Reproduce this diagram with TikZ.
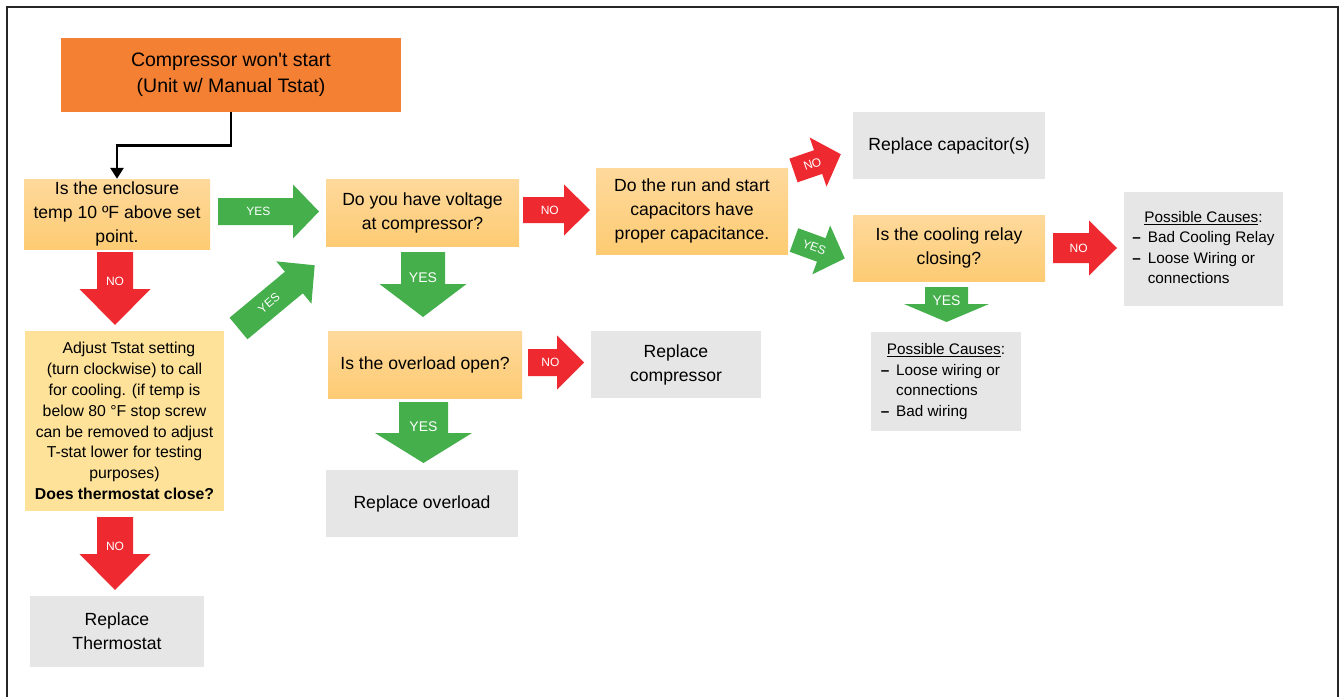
\documentclass[tikz,border=0pt]{standalone}
\usepackage{fontspec}
\setmainfont{Liberation Sans}[Ligatures=TeXOff]
\usetikzlibrary{arrows.meta}
\definecolor{orng}{HTML}{F48034}
\definecolor{ylwtop}{HTML}{FED99C}
\definecolor{ylwbot}{HTML}{FDCB73}
\definecolor{ylwflat}{HTML}{FEE29A}
\definecolor{gry}{HTML}{E7E6E6}
\definecolor{grn}{HTML}{44AF4B}
\definecolor{rd}{HTML}{EE2A30}
\definecolor{frm}{HTML}{262626}
\tikzset{
  box/.style={inner sep=0pt, align=center, font=\fontsize{17.6}{24}\selectfont},
  qbox/.style={box, top color=ylwtop, bottom color=ylwbot},
  gbox/.style={box, fill=gry},
  alabel/.style={text=white, inner sep=0pt, font=\fontsize{12}{12}\selectfont},
  flow/.style={line width=2.6pt, -{Triangle[width=13pt,length=11pt]}},
}
% name, tail centre, angle, length, body width, head width, head length, colour, label
\newcommand{\barrow}[9]{%
  \pgfmathsetmacro\trot{(#3<-45)?0:#3}%
  \begin{scope}[shift={(#2)}, rotate=#3]
    \fill[#8] (0,-#5/2) -- (#4-#7,-#5/2) -- (#4-#7,-#6/2) -- (#4,0)
      -- (#4-#7,#6/2) -- (#4-#7,#5/2) -- (0,#5/2) -- cycle;
    \node[alabel, rotate=\trot] (#1) at (0.4*#4,0) {#9};
  \end{scope}}
\newcommand{\bigyes}{\fontsize{14}{14}\selectfont YES}
\begin{document}
\begin{tikzpicture}[x=1pt,y=-1pt]
\useasboundingbox (0,0) rectangle (1341,696);
\fill[white] (0,0) rectangle (1341,696);
\draw[frm, line width=2.6pt] (7,697) -- (7,7) -- (1338,7) -- (1338,697);

% boxes
\node[box, fill=orng, minimum width=340pt, minimum height=74pt,
  font=\fontsize{19.5}{26}\selectfont] (start) at (231,75)
  {Compressor won't start\\(Unit w/ Manual Tstat)};
\node[qbox, minimum width=186pt, minimum height=70pt] (q1) at (117,214)
  {Is the enclosure\\temp 10 ºF above set\\point.};
\node[qbox, minimum width=193pt, minimum height=67pt] (q2) at (422.5,212.5)
  {Do you have voltage\\at compressor?};
\node[qbox, minimum width=192pt, minimum height=86pt] (q3) at (692,211)
  {Do the run and start\\capacitors have\\proper capacitance.};
\node[box, fill=ylwflat, minimum width=199pt, minimum height=180pt,
  font=\fontsize{15.8}{20.8}\selectfont] (q4) at (124.5,421)
  {\ \ Adjust Tstat setting\\(turn clockwise) to call\\for cooling. (if temp is\\below 80 °F stop screw\\can be removed to adjust\\T-stat lower for testing\\purposes)\\\textbf{Does thermostat close?}};
\node[gbox, minimum width=174pt, minimum height=71pt] (thermo) at (117,631.5)
  {Replace\\Thermostat};
\node[qbox, minimum width=194pt, minimum height=67pt] (q5) at (425,364.5)
  {Is the overload open?};
\node[gbox, minimum width=170pt, minimum height=67pt] (rcomp) at (676,364.5)
  {Replace\\compressor};
\node[gbox, minimum width=192pt, minimum height=67pt] (rover) at (422,503.5)
  {Replace overload};
\node[gbox, minimum width=192pt, minimum height=67pt] (rcap) at (949,145.5)
  {Replace capacitor(s)};
\node[qbox, minimum width=192pt, minimum height=66pt] (q6) at (949,248)
  {Is the cooling relay\\closing?};
\node[gbox, minimum width=150pt, minimum height=99pt,
  font=\fontsize{15.3}{20.5}\selectfont] (causes1) at (946,381.5)
  {\begin{tabular}{@{}l@{\ \,}l@{}}
    \multicolumn{2}{c}{\underline{Possible Causes}:}\\
    \textbf{–} & Loose wiring or\\
     & connections\\
    \textbf{–} & Bad wiring
  \end{tabular}};
\node[gbox, minimum width=159pt, minimum height=114pt,
  font=\fontsize{15.3}{20.5}\selectfont] (causes2) at (1203.5,249)
  {\begin{tabular}{@{}l@{\ \,}l@{}}
    \multicolumn{2}{c}{\underline{Possible Causes}:}\\
    \textbf{–} & Bad Cooling Relay\\
    \textbf{–} & Loose Wiring or\\
     & connections
  \end{tabular}};

% connector
\draw[flow] (start.south) -- ++(0,33) -| (q1.north);

% block arrows
\barrow{yes1}{218,211.5}{0}{101}{27}{54}{26}{grn}{YES}
\barrow{no1}{523,210}{0}{67}{26}{51}{26}{rd}{NO}
\barrow{no2}{528,362.5}{0}{56}{27}{54}{27}{rd}{NO}
\barrow{no3}{1053,248}{0}{64}{30}{55}{28}{rd}{NO}
\barrow{no4}{115,252}{-90}{73}{36}{71}{36}{rd}{NO}
\barrow{no5}{115,517}{-90}{73}{36}{71}{36}{rd}{NO}
\barrow{yes2}{423,252}{-90}{65}{44}{87}{33}{grn}{\bigyes}
\barrow{yes3}{423.5,402}{-90}{61}{49}{97}{30}{grn}{\bigyes}
\barrow{yes4}{946.5,287}{-90}{35}{43}{85}{18}{grn}{\bigyes}
\barrow{yes5}{238.5,328.5}{39.7}{99}{28}{55}{27}{grn}{YES}
\barrow{no6}{793.5,170.5}{19}{50}{25}{52}{24}{rd}{NO}
\barrow{yes6}{794,240}{-20}{54}{25}{52}{25}{grn}{YES}
\end{tikzpicture}
\end{document}
